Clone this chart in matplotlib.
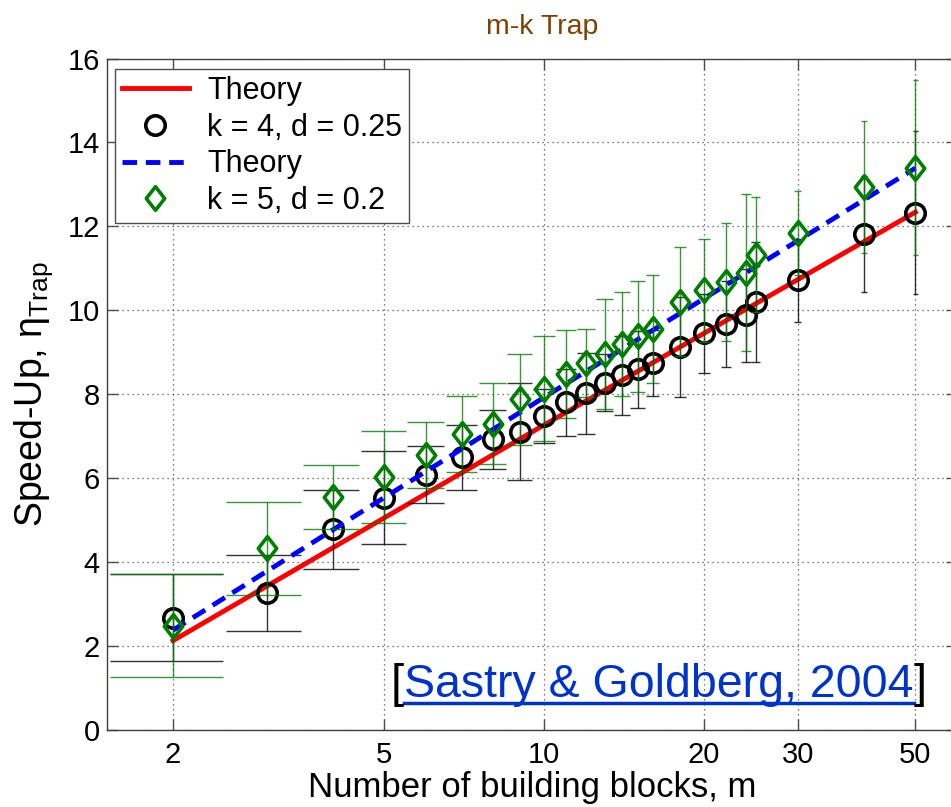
import matplotlib
matplotlib.use("Agg")
import matplotlib.pyplot as plt
import numpy as np
from matplotlib.path import Path

plt.rcParams['font.family'] = ['Liberation Sans', 'DejaVu Sans']
plt.rcParams['mathtext.fontset'] = 'custom'
plt.rcParams['mathtext.rm'] = 'Liberation Sans'
plt.rcParams['mathtext.it'] = 'Liberation Sans:italic'

# ---- data ----
m = [2, 3, 4, 5, 6, 7, 8, 9, 10, 11, 12, 13, 14, 15, 16, 18, 20, 22, 24, 25, 30, 40, 50]
k4_mean = [2.68, 3.27, 4.78, 5.54, 6.08, 6.50, 6.93, 7.11, 7.48, 7.81, 8.02, 8.28, 8.45, 8.59,
           8.75, 9.13, 9.45, 9.67, 9.88, 10.20, 10.72, 11.82, 12.33]
k4_err = [1.03, 0.90, 0.95, 1.10, 0.68, 0.77, 0.70, 1.16, 0.65, 0.80, 0.97, 0.68, 0.94, 0.91,
          0.79, 1.19, 0.95, 1.03, 1.11, 1.42, 0.99, 1.39, 1.95]
k5_mean = [2.49, 4.33, 5.56, 6.03, 6.55, 7.05, 7.30, 7.88, 8.13, 8.48, 8.75, 8.95, 9.20, 9.38,
           9.56, 10.20, 10.48, 10.68, 10.89, 11.33, 11.84, 12.93, 13.40]
k5_err = [1.22, 1.11, 0.76, 1.10, 0.78, 0.90, 0.96, 1.08, 1.25, 1.05, 0.81, 1.31, 1.24, 1.33,
          1.28, 1.30, 1.23, 1.40, 1.87, 1.37, 1.00, 1.57, 2.08]
theory_m = [2, 10, 50]
theory_k4 = [2.13, 7.27, 12.34]
theory_k5 = [2.38, 7.93, 13.39]

xticks = [2, 5, 10, 20, 30, 50]
yticks = [0, 2, 4, 6, 8, 10, 12, 14, 16]

GREEN = (0, 0.5, 0)

fig = plt.figure(figsize=(9.51, 8.07), dpi=100)
ax = fig.add_axes([0.1122, 0.0954, 0.8946, 0.8321])
ax.set_xscale('log')
ax.set_xlim(1.5, 60)
ax.set_ylim(0, 16)

diamond = Path([(0, 1), (0.78, 0), (0, -1), (-0.78, 0), (0, 1)],
               [Path.MOVETO, Path.LINETO, Path.LINETO, Path.LINETO, Path.CLOSEPOLY])

mm = np.array(m, dtype=float)
tee = (mm.max() - mm.min()) / 100.0

# theory k4
ax.plot(theory_m, theory_k4, color='red', lw=3.5, label='Theory', zorder=3)
# k4 error bars
a = np.array(k4_mean); e = np.array(k4_err)
ax.vlines(mm, a - e, a + e, color='black', lw=1.0, alpha=0.8, zorder=3)
ax.hlines(a + e, mm - tee, mm + tee, color='black', lw=1.0, alpha=0.8, zorder=3)
ax.hlines(a - e, mm - tee, mm + tee, color='black', lw=1.0, alpha=0.8, zorder=3)
ax.plot(m, k4_mean, linestyle='none', marker='o', markersize=14, markerfacecolor='none',
        markeredgecolor='black', markeredgewidth=2.6, label='k = 4, d = 0.25', zorder=4)
# theory k5
ax.plot(theory_m, theory_k5, color='blue', lw=3.5, linestyle=(0, (3, 1.8)), label='Theory', zorder=5)
b = np.array(k5_mean); f = np.array(k5_err)
ax.vlines(mm, b - f, b + f, color=GREEN, lw=1.0, alpha=0.8, zorder=5)
ax.hlines(b + f, mm - tee, mm + tee, color=GREEN, lw=1.0, alpha=0.8, zorder=5)
ax.hlines(b - f, mm - tee, mm + tee, color=GREEN, lw=1.0, alpha=0.8, zorder=5)
ax.plot(m, k5_mean, linestyle='none', marker=diamond, markersize=17, markerfacecolor='none',
        markeredgecolor=GREEN, markeredgewidth=2.6, label='k = 5, d = 0.2', zorder=6)

ax.set_xticks(xticks)
ax.set_xticklabels([str(t) for t in xticks])
ax.xaxis.set_minor_locator(matplotlib.ticker.NullLocator())
ax.set_yticks(yticks)
ax.set_yticklabels([str(t) for t in yticks])
ax.tick_params(axis='both', which='major', direction='in', length=8, width=1,
               labelsize=21, top=True, right=True, color='0.3')
ax.tick_params(axis='x', pad=8)
ax.tick_params(axis='y', pad=5)
ax.grid(True, which='major', color='0.3', linestyle=(0, (1, 3)), lw=0.9)
ax.set_axisbelow(True)
for s in ax.spines.values():
    s.set_color('0.25')
    s.set_linewidth(1.0)

ax.set_xlabel('Number of building blocks, m', fontsize=25, labelpad=1)
ax.set_ylabel('Speed-Up, η$_{\\mathrm{Trap}}$', fontsize=27, labelpad=9)
ax.set_title('m-k Trap', fontsize=20.5, color=(0.5, 0.25, 0.0), pad=18, x=0.512)

leg = ax.legend(loc='upper left', bbox_to_anchor=(0.0098, 0.984), borderaxespad=0,
                fontsize=22, frameon=True, fancybox=False, framealpha=1, edgecolor='0.3',
                handlelength=2.2, handletextpad=0.6, labelspacing=0.22, borderpad=0.22)
leg.get_frame().set_linewidth(1.0)

# citation
fig.canvas.draw()
renderer = fig.canvas.get_renderer()
cx, cy = 659 / 951, 1 - 697 / 807
t = fig.text(cx, cy, 'Sastry & Goldberg, 2004', fontsize=33.5, color='#0033CC',
             ha='center', va='baseline')
bb = t.get_window_extent(renderer)
x0, x1 = bb.x0 / fig.bbox.width, bb.x1 / fig.bbox.width
fig.text(x0, cy, '[', fontsize=34, color='black', ha='right', va='baseline')
fig.text(x1, cy, ']', fontsize=34, color='black', ha='left', va='baseline')
uy = cy - 6 / 807
fig.add_artist(plt.Line2D([x0, x1], [uy, uy], color='#0033CC', lw=2.5,
                          transform=fig.transFigure))

fig.savefig('out.png', dpi=100)
